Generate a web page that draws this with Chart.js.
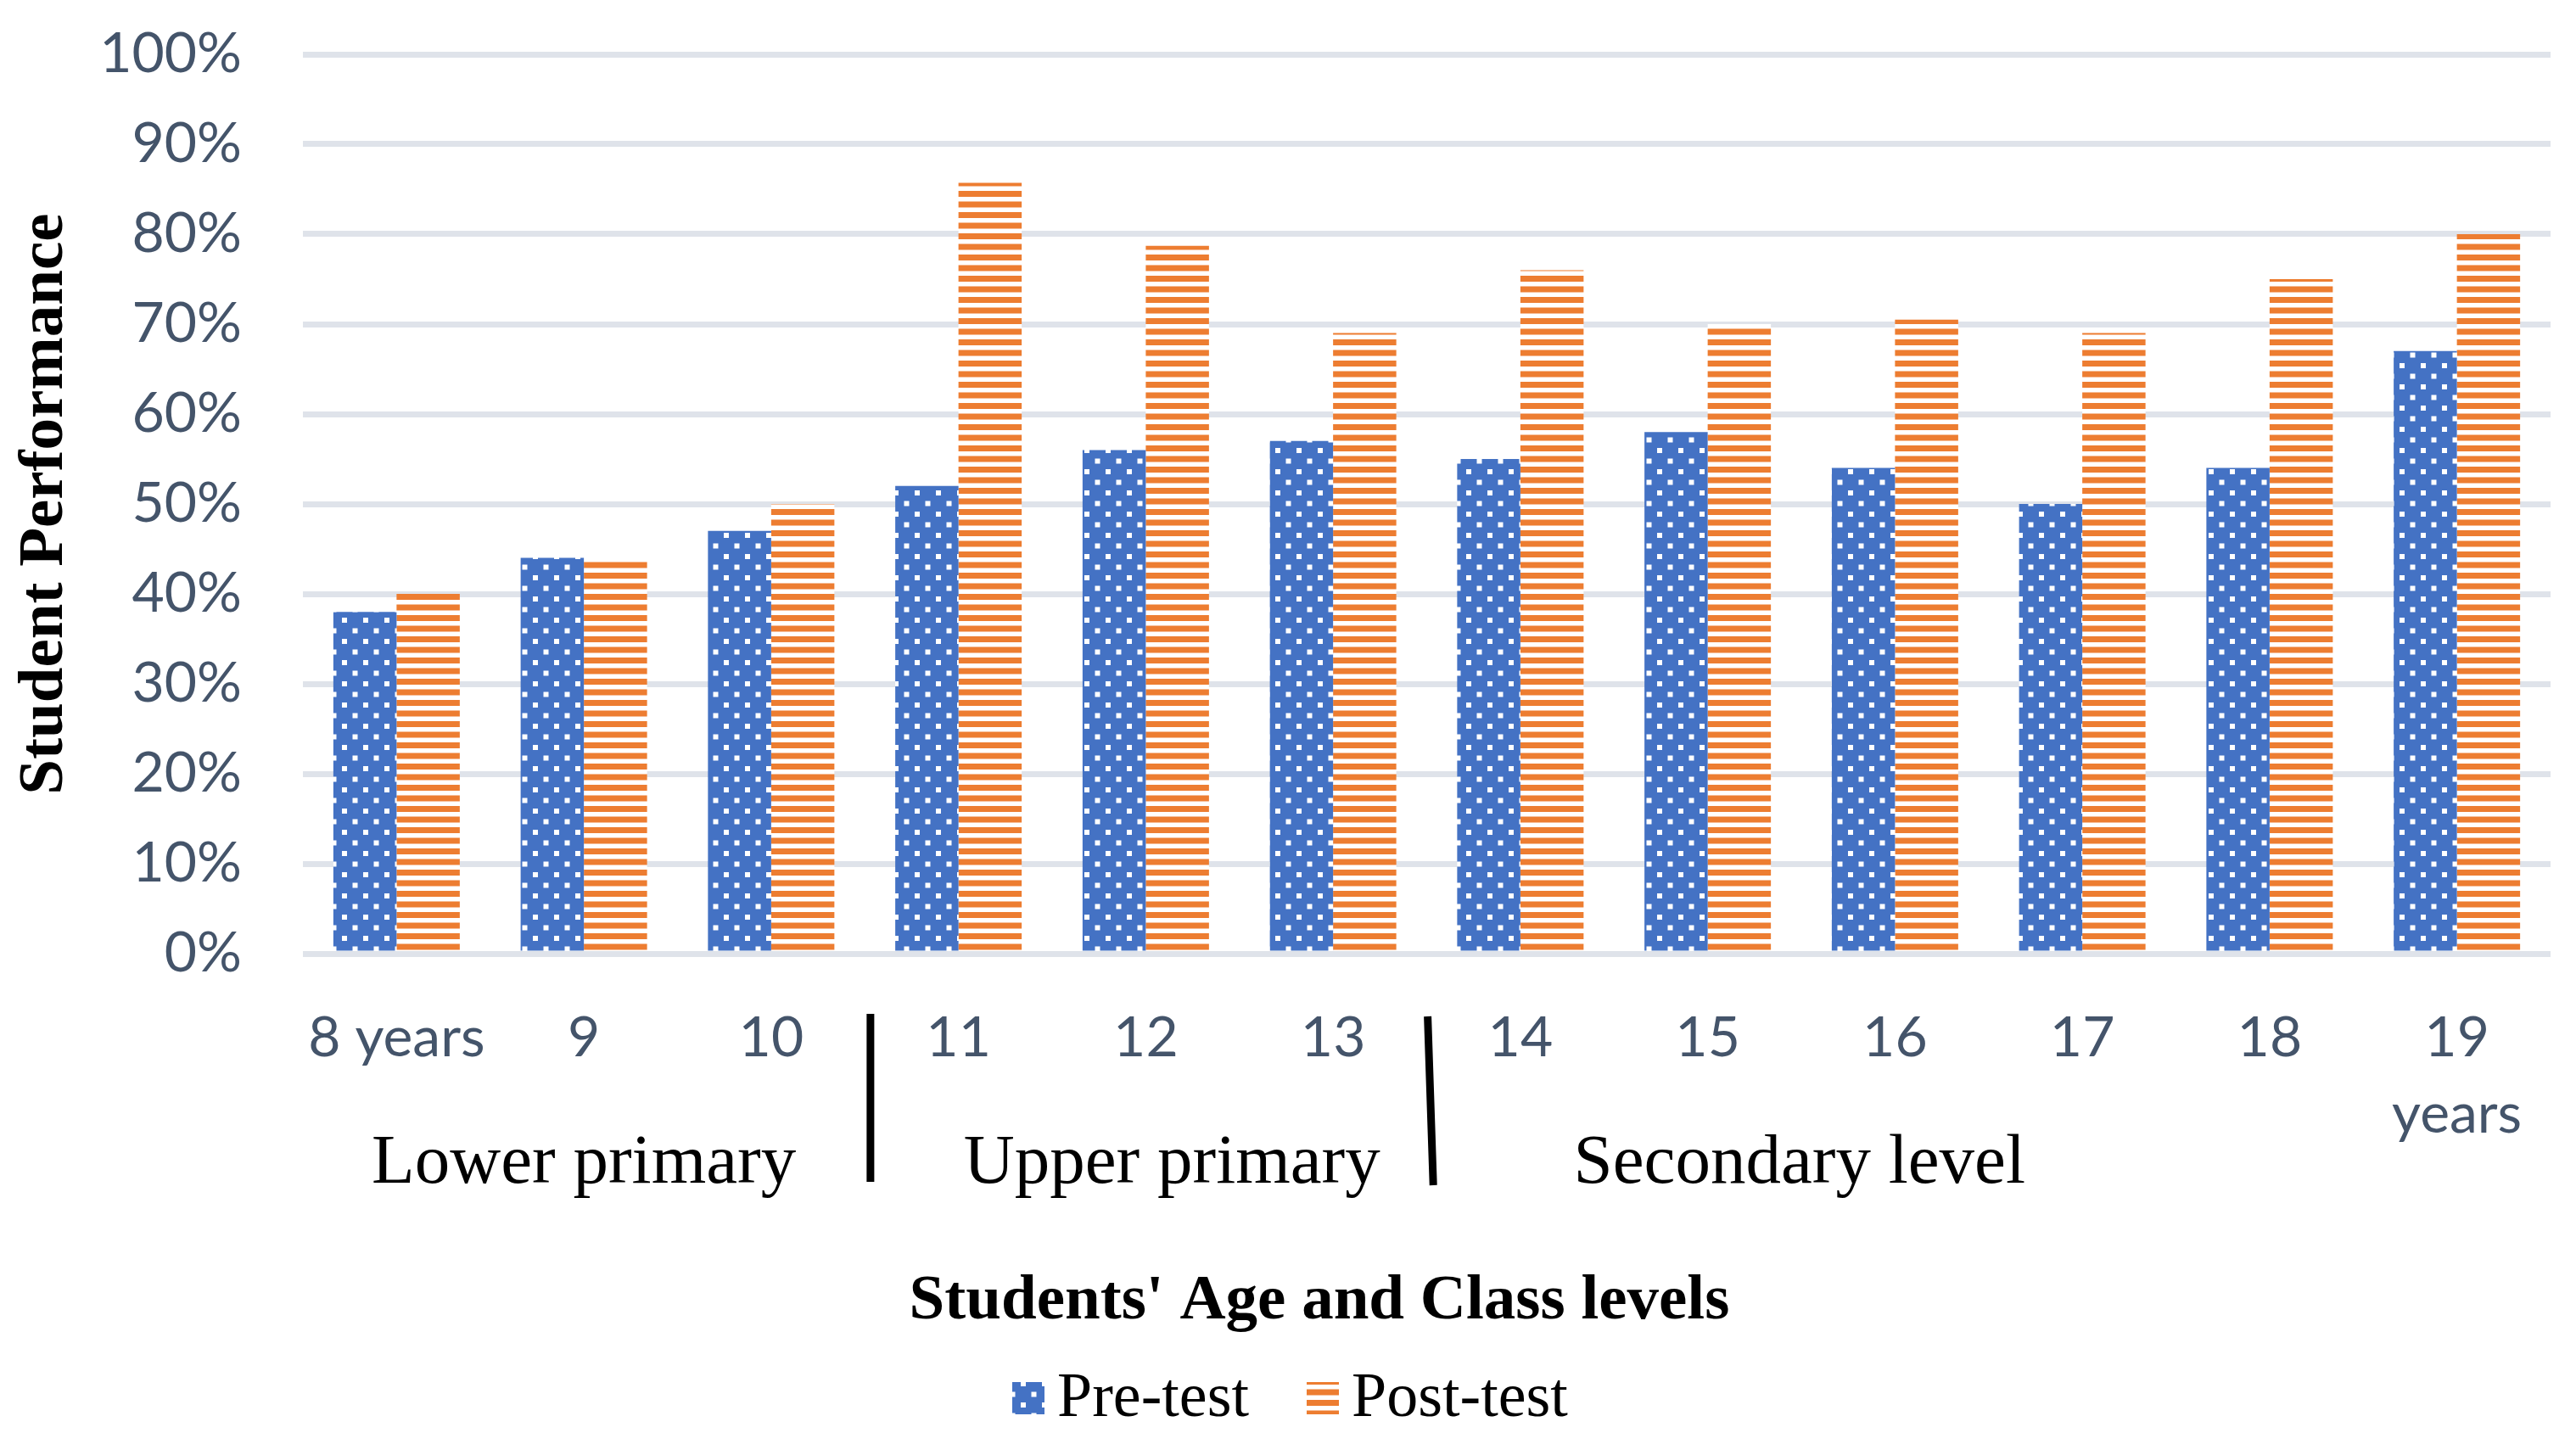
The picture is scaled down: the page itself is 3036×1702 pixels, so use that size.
<!DOCTYPE html>
<html>
<head>
<meta charset="utf-8">
<title>Student Performance</title>
<script src="https://cdn.jsdelivr.net/npm/chart.js@4.4.1/dist/chart.umd.min.js"></script>
<style>
  html, body { margin: 0; padding: 0; background: #ffffff; }
  #myChart { display: block; }
</style>
</head>
<body>
<canvas id="myChart" width="3036" height="1702" style="width:3036px;height:1702px"></canvas>
<script>
// chart data
const ageLabels = ['8 years', '9', '10', '11', '12', '13', '14', '15', '16', '17', '18', ['19', 'years']];
const preTest = [38, 44, 47, 52, 56, 57, 55, 58, 54, 50, 54, 67];
const postTest = [40, 43.7, 50, 85.7, 78.7, 69, 76, 70, 70.5, 69, 75, 80];
const yTicks = [0, 10, 20, 30, 40, 50, 60, 70, 80, 90, 100];
const groupNames = ['Lower primary', 'Upper primary', 'Secondary level'];
const seriesNames = ['Pre-test', 'Post-test'];

const blue = '#4472C4';
const orange = '#ED7D31';
const tickColor = '#44546A';
const serif = '"Liberation Serif", "Times New Roman", serif';

// dotted fill for the pre-test bars
function dotPattern() {
    let c = document.createElement('canvas');
    c.width = 25; c.height = 25;
    let g = c.getContext('2d');
    g.fillStyle = blue;
    g.fillRect(0, 0, 25, 25);
    g.fillStyle = '#ffffff';
    g.fillRect(3, 3, 6, 6);
    g.fillRect(15.5, 15.5, 6, 6);
    return g.createPattern(c, 'repeat');
}

// horizontal stripes for the post-test bars
function stripePattern() {
    let c = document.createElement('canvas');
    c.width = 4; c.height = 25;
    let g = c.getContext('2d');
    g.fillStyle = '#ffffff';
    g.fillRect(0, 0, 4, 25);
    g.fillStyle = orange;
    g.fillRect(0, 0, 4, 7);
    g.fillRect(0, 12.5, 4, 7);
    return g.createPattern(c, 'repeat');
}

const preFill = dotPattern();
const postFill = stripePattern();

// group labels, separators, x title and legend
const extras = {
    id: 'extras',
    afterDraw(chart) {
        const ctx = chart.ctx;
        const x = chart.scales.x;
        ctx.save();

        ctx.fillStyle = '#000000';
        ctx.textAlign = 'center';
        ctx.textBaseline = 'alphabetic';
        ctx.font = '83px ' + serif;
        const groupPos = [1.0, 4.14, 7.49];
        for (let i = 0; i < groupNames.length; i++) {
            ctx.fillText(groupNames[i], x.getPixelForValue(groupPos[i]), 1394);
        }

        ctx.strokeStyle = '#000000';
        ctx.lineWidth = 9;
        ctx.beginPath();
        ctx.moveTo(x.getPixelForValue(2.53), 1195);
        ctx.lineTo(x.getPixelForValue(2.53), 1393);
        ctx.moveTo(x.getPixelForValue(5.505), 1198);
        ctx.lineTo(x.getPixelForValue(5.535), 1397);
        ctx.stroke();

        ctx.font = 'bold 75px ' + serif;
        ctx.fillText("Students' Age and Class levels", 1555, 1554);

        // legend
        const fills = [preFill, postFill];
        const boxX = [1193, 1540];
        ctx.font = '74px ' + serif;
        ctx.textAlign = 'left';
        for (let i = 0; i < seriesNames.length; i++) {
            ctx.fillStyle = fills[i];
            ctx.fillRect(boxX[i], 1629, 38, 38);
            ctx.fillStyle = '#000000';
            ctx.fillText(seriesNames[i], boxX[i] + 53, 1669);
        }
        ctx.restore();
    }
};

let ctx = document.getElementById('myChart').getContext('2d');
let myChart = new Chart(ctx, {
    type: 'bar',
    data: {
        labels: ageLabels,
        datasets: [{
            label: seriesNames[0],
            data: preTest,
            backgroundColor: preFill,
            borderWidth: 0,
            barPercentage: 1.0,
            categoryPercentage: 0.675
        }, {
            label: seriesNames[1],
            data: postTest,
            backgroundColor: postFill,
            borderWidth: 0,
            barPercentage: 1.0,
            categoryPercentage: 0.675
        }]
    },
    options: {
        responsive: false,
        devicePixelRatio: 1,
        animation: false,
        layout: {
            padding: { top: 64, right: 30, bottom: 0, left: 0 }
        },
        plugins: {
            legend: { display: false },
            tooltip: { enabled: false }
        },
        scales: {
            x: {
                grid: { display: false, drawTicks: false },
                border: { display: false },
                ticks: {
                    color: tickColor,
                    font: { family: 'Lato', size: 66, lineHeight: 1.36 },
                    padding: 55,
                    maxRotation: 0,
                    autoSkip: false
                },
                afterFit(scale) { scale.height = 578; }
            },
            y: {
                min: 0,
                max: 100,
                afterBuildTicks(scale) {
                    scale.ticks = yTicks.map(v => ({ value: v }));
                },
                grid: { color: '#DFE3EA', lineWidth: 7, drawTicks: false },
                border: { display: false },
                ticks: {
                    color: tickColor,
                    font: { family: 'Lato', size: 66 },
                    padding: 72,
                    callback: v => v + '%'
                },
                title: {
                    display: true,
                    text: 'Student Performance',
                    color: '#000000',
                    font: { family: serif, size: 75, weight: 'bold', lineHeight: 1.2 },
                    padding: { top: 9, bottom: 0 }
                },
                afterFit(scale) {
                    scale.width = 357;
                    scale.paddingTop = 0;
                    scale.paddingBottom = 0;
                }
            }
        }
    },
    plugins: [extras]
});
</script>
</body>
</html>
